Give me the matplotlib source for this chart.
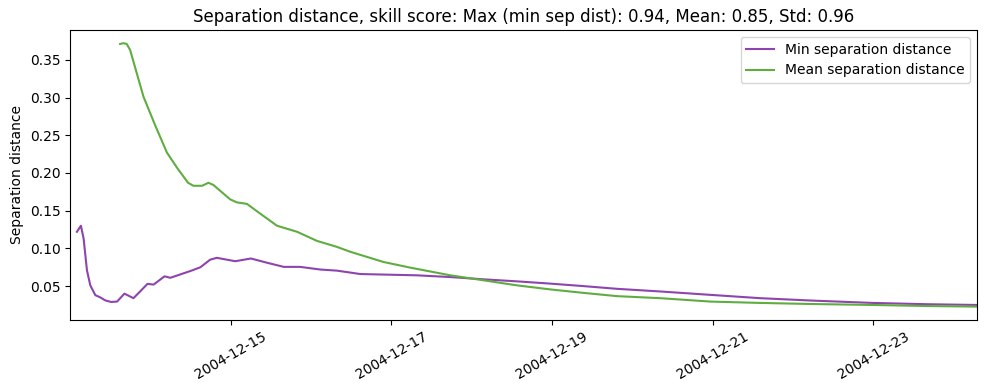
import numpy as np
import matplotlib
matplotlib.use("Agg")
import matplotlib.pyplot as plt
import matplotlib.dates as mdates

start = np.datetime64("2004-12-13T00:00")
end = np.datetime64("2004-12-24T07:00")

# hours since start
min_hours = [2.0, 3.2, 4.0, 5.0, 6.0, 7.5, 9.0, 10.5, 12.2, 14.0, 16.2, 18.9, 20.9,
             23.1, 24.9, 28.2, 29.9, 35.9, 38.9, 41.8, 43.8, 49.3, 54.0, 58.8, 63.8,
             68.7, 74.7, 79.7, 86.7, 103.6, 113.6, 123.5, 133.5, 143.5, 153.4, 163.4,
             176.3, 191.3, 206.2, 221.2, 239.8, 256.0, 271.0]
min_sep = [0.122, 0.130, 0.113, 0.071, 0.051, 0.038, 0.035, 0.031, 0.029, 0.0295,
           0.040, 0.034, 0.043, 0.053, 0.052, 0.063, 0.061, 0.070, 0.075, 0.085,
           0.0875, 0.083, 0.0866, 0.081, 0.0755, 0.0755, 0.072, 0.0705, 0.066,
           0.0643, 0.062, 0.059, 0.0563, 0.0533, 0.050, 0.0464, 0.0429, 0.0384,
           0.034, 0.0309, 0.0277, 0.026, 0.025]

mean_hours = [14.9, 15.9, 16.9, 17.9, 19.9, 21.9, 25.4, 28.9, 31.9, 35.2, 36.8, 39.4,
              41.3, 42.8, 47.8, 49.8, 52.8, 56.8, 61.8, 67.8, 73.7, 79.7, 83.7, 93.6,
              101.6, 113.6, 123.5, 133.5, 143.5, 153.4, 163.4, 176.3, 191.3, 206.2,
              221.2, 239.8, 256.0, 271.0]
mean_sep = [0.371, 0.372, 0.371, 0.363, 0.332, 0.301, 0.263, 0.227, 0.207, 0.187,
            0.183, 0.183, 0.187, 0.184, 0.165, 0.161, 0.159, 0.146, 0.130, 0.122,
            0.110, 0.102, 0.0955, 0.082, 0.0745, 0.0643, 0.0577, 0.051, 0.0456,
            0.041, 0.0367, 0.034, 0.0295, 0.0277, 0.0263, 0.025, 0.0236, 0.0228]

def to_time(hours):
    return start + (np.array(hours) * 60).astype("timedelta64[m]")

fig, ax = plt.subplots(figsize=(9.89, 3.9), dpi=100)
ax.plot(to_time(min_hours), min_sep, color="#8e44ad", label="Min separation distance")
ax.plot(to_time(mean_hours), mean_sep, color="#5fad41", label="Mean separation distance")
ax.set_xlim(start, end)
ax.xaxis.set_major_locator(mdates.DayLocator(bymonthday=[15, 17, 19, 21, 23]))
ax.xaxis.set_major_formatter(mdates.DateFormatter("%Y-%m-%d"))
plt.setp(ax.get_xticklabels(), rotation=30)
ax.set_ylabel("Separation distance")
ax.set_title("Separation distance, skill score: Max (min sep dist): 0.94, Mean: 0.85, Std: 0.96")
ax.legend(loc="upper right")
fig.subplots_adjust(left=0.071, right=0.988, top=0.923, bottom=0.18)
fig.savefig("out.png")
